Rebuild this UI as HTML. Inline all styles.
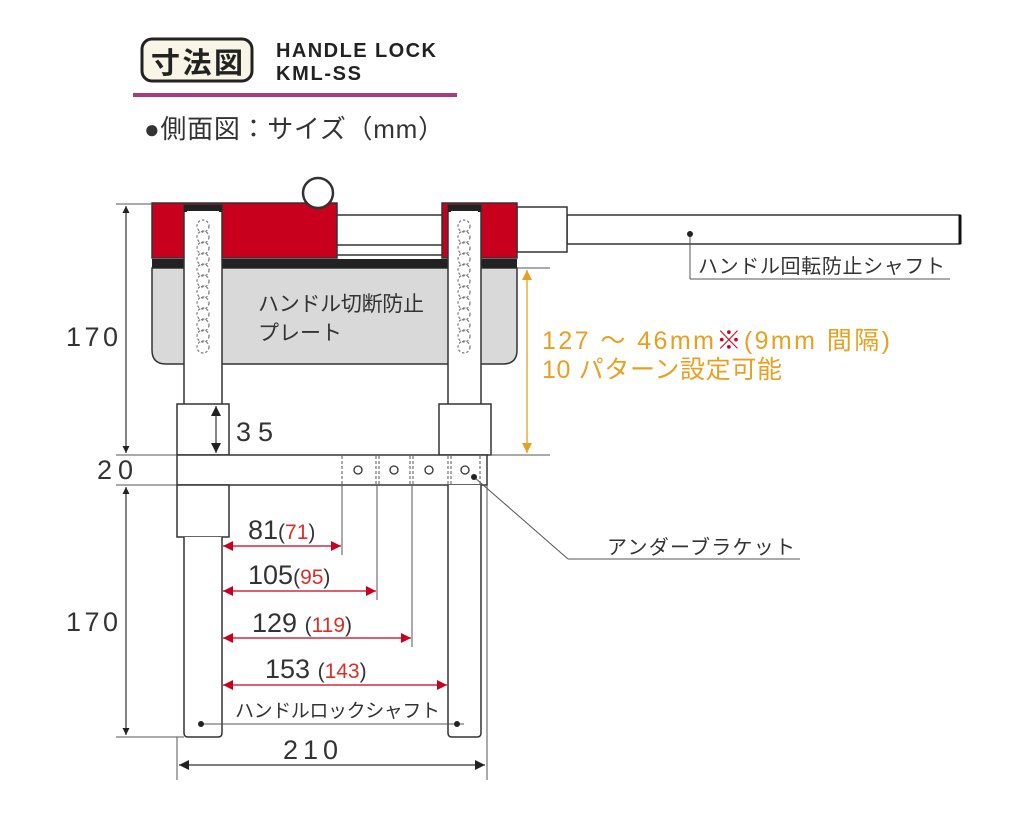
<!DOCTYPE html>
<html><head><meta charset="utf-8"><style>
html,body{margin:0;padding:0;background:#fff;width:1024px;height:819px;overflow:hidden}
svg{display:block}
text{font-family:"Liberation Sans","Noto Sans CJK JP",sans-serif}
</style></head><body>
<svg width="1024" height="819" viewBox="0 0 1024 819" xmlns="http://www.w3.org/2000/svg">
<defs>
<marker id="ak" viewBox="0 0 10 10" refX="10" refY="5" markerWidth="7" markerHeight="12" orient="auto-start-reverse" markerUnits="userSpaceOnUse"><path d="M0,0 L10,5 L0,10z" fill="#222"/></marker>
<marker id="ar" viewBox="0 0 10 10" refX="10" refY="5" markerWidth="20" markerHeight="10" orient="auto-start-reverse" markerUnits="userSpaceOnUse"><path d="M0,0 L10,5 L0,10z" fill="#c8001e"/></marker>
<marker id="ao" viewBox="0 0 10 10" refX="10" refY="5" markerWidth="16" markerHeight="10" orient="auto-start-reverse" markerUnits="userSpaceOnUse"><path d="M0,0 L10,5 L0,10z" fill="#e8a020"/></marker>
<marker id="av" viewBox="0 0 10 10" refX="10" refY="5" markerWidth="18" markerHeight="10" orient="auto-start-reverse" markerUnits="userSpaceOnUse"><path d="M0,0 L10,5 L0,10z" fill="#222"/></marker>
</defs>
<!-- header -->
<rect x="142" y="39" width="110" height="42" rx="10" fill="#f8f4e6" stroke="#222" stroke-width="3"/>
<text x="197" y="73" font-size="29" font-weight="bold" text-anchor="middle" fill="#222" textLength="92">寸法図</text>
<text x="276" y="57" font-size="20" font-weight="bold" fill="#222" textLength="160">HANDLE LOCK</text>
<text x="276" y="80" font-size="20" font-weight="bold" fill="#222" textLength="85">KML-SS</text>
<rect x="133" y="93" width="324" height="4" fill="#a83a80"/>
<text x="144" y="138" font-size="26" fill="#333" textLength="300">●側面図：サイズ（mm）</text>

<g stroke="#333" stroke-width="1.5" fill="none">
<rect x="567" y="215" width="393" height="29" fill="#fff"/>
<line x1="960" y1="215" x2="960" y2="244" stroke="#111" stroke-width="3"/>
<rect x="517" y="207" width="50" height="45" fill="#fff"/>
<path d="M152,268 H517 V350 Q517,364 503,364 H166 Q152,364 152,350 Z" fill="#d9d9d9"/>
<rect x="152" y="259" width="365" height="9" fill="#222" stroke="none"/>
<rect x="152" y="203" width="185" height="55" fill="#c8001e"/>
<rect x="442" y="203" width="75" height="55" fill="#c8001e"/>
<rect x="337" y="215" width="105" height="30" fill="#fff"/>
<line x1="337" y1="255" x2="442" y2="255"/>
<circle cx="318" cy="193" r="15" fill="#fff" stroke-width="2.5"/>
<rect x="184" y="205" width="38" height="200" fill="#fff"/>
<rect x="448" y="205" width="33" height="200" fill="#fff"/>
<rect x="184" y="205" width="38" height="7" fill="#222" stroke="none"/>
<rect x="448" y="205" width="33" height="7" fill="#222" stroke="none"/>
<rect x="187" y="211" width="32" height="5" fill="#fff" stroke="none"/>
<rect x="451" y="211" width="27" height="5" fill="#fff" stroke="none"/>
</g>
<g stroke="#777" stroke-width="1.2" fill="none" stroke-dasharray="2.5,2">
<circle cx="203" cy="226" r="6"/><circle cx="203" cy="237" r="6"/><circle cx="203" cy="248" r="6"/><circle cx="203" cy="259" r="6"/><circle cx="203" cy="270" r="6"/><circle cx="203" cy="281" r="6"/><circle cx="203" cy="292" r="6"/><circle cx="203" cy="303" r="6"/><circle cx="203" cy="314" r="6"/><circle cx="203" cy="325" r="6"/><circle cx="203" cy="336" r="6"/><circle cx="203" cy="347" r="6"/>
<circle cx="464" cy="226" r="6"/><circle cx="464" cy="237" r="6"/><circle cx="464" cy="248" r="6"/><circle cx="464" cy="259" r="6"/><circle cx="464" cy="270" r="6"/><circle cx="464" cy="281" r="6"/><circle cx="464" cy="292" r="6"/><circle cx="464" cy="303" r="6"/><circle cx="464" cy="314" r="6"/><circle cx="464" cy="325" r="6"/><circle cx="464" cy="336" r="6"/><circle cx="464" cy="347" r="6"/>
</g>
<text x="258" y="311" font-size="21" fill="#333" textLength="166">ハンドル切断防止</text>
<text x="258" y="340" font-size="21" fill="#333" textLength="84">プレート</text>

<g stroke="#333" stroke-width="1.5" fill="#fff">
<rect x="177" y="404" width="52" height="51"/>
<rect x="439" y="404" width="52" height="51"/>
<rect x="177" y="455" width="310" height="30"/>
<rect x="177" y="485" width="52" height="52"/>
<path d="M184,537 V733 Q184,737 188,737 H218 Q222,737 222,733 V537"/>
<path d="M448,485 V733 Q448,737 452,737 H477 Q481,737 481,733 V485"/>
</g>
<g stroke="#555" stroke-width="1" stroke-dasharray="3,2">
<line x1="342" y1="456" x2="342" y2="484"/><line x1="376" y1="456" x2="376" y2="484"/><line x1="379" y1="456" x2="379" y2="484"/>
<line x1="410" y1="456" x2="410" y2="484"/><line x1="413" y1="456" x2="413" y2="484"/>
<line x1="448" y1="456" x2="448" y2="484"/><line x1="451" y1="456" x2="451" y2="484"/><line x1="480" y1="456" x2="480" y2="484"/>
</g>
<g stroke="#333" stroke-width="1.3" fill="#fff">
<circle cx="358" cy="470" r="4"/><circle cx="394" cy="470" r="4"/><circle cx="429" cy="470" r="4"/><circle cx="465" cy="470" r="4"/>
</g>
<g stroke="#555" stroke-width="1">
<line x1="116" y1="204" x2="152" y2="204"/>
<line x1="116" y1="455" x2="177" y2="455"/>
<line x1="116" y1="485" x2="177" y2="485"/>
<line x1="116" y1="737" x2="184" y2="737"/>
<line x1="490" y1="455" x2="550" y2="455"/>
<line x1="517" y1="268" x2="550" y2="268"/>
<line x1="177" y1="737" x2="177" y2="780"/>
<line x1="487" y1="485" x2="487" y2="780"/>
<line x1="342" y1="485" x2="342" y2="555"/>
<line x1="377" y1="485" x2="377" y2="600"/>
<line x1="412" y1="485" x2="412" y2="647"/>
<line x1="202" y1="724" x2="464" y2="724"/>
<line x1="690" y1="234" x2="690" y2="279"/><line x1="690" y1="279" x2="950" y2="279"/>
<line x1="474" y1="477" x2="568" y2="559"/><line x1="568" y1="559" x2="800" y2="559"/>
</g>
<circle cx="690" cy="234" r="3" fill="#222"/>
<circle cx="474" cy="477" r="3" fill="#222"/>
<circle cx="201" cy="724" r="3" fill="#222"/>
<circle cx="457" cy="724" r="3" fill="#222"/>
<g stroke="#333" stroke-width="1.2">
<line x1="126" y1="206" x2="126" y2="453" marker-start="url(#ak)" marker-end="url(#ak)"/>
<line x1="126" y1="487" x2="126" y2="735" marker-start="url(#ak)" marker-end="url(#ak)"/>
<line x1="216" y1="406" x2="216" y2="453" marker-start="url(#av)" marker-end="url(#av)"/>
<line x1="179" y1="765" x2="485" y2="765" marker-start="url(#av)" marker-end="url(#av)"/>
</g>
<line x1="527" y1="270" x2="527" y2="453" stroke="#e8a020" stroke-width="1.3" marker-start="url(#ao)" marker-end="url(#ao)"/>
<g stroke="#c8001e" stroke-width="1.3">
<line x1="223" y1="546" x2="341" y2="546" marker-start="url(#ar)" marker-end="url(#ar)"/>
<line x1="223" y1="591" x2="376" y2="591" marker-start="url(#ar)" marker-end="url(#ar)"/>
<line x1="223" y1="638" x2="411" y2="638" marker-start="url(#ar)" marker-end="url(#ar)"/>
<line x1="223" y1="685" x2="447" y2="685" marker-start="url(#ar)" marker-end="url(#ar)"/>
</g>
<g font-size="27" fill="#333">
<text x="66" y="346" textLength="52">170</text>
<text x="66" y="631" textLength="52">170</text>
<text x="97" y="479" textLength="36">20</text>
<text x="236" y="441" textLength="37">35</text>
<text x="283" y="759" textLength="55">210</text>
<text x="248" y="539">81<tspan font-size="21">(</tspan><tspan font-size="21" fill="#d8302a">71</tspan><tspan font-size="21">)</tspan></text>
<text x="248" y="584">105<tspan font-size="21">(</tspan><tspan font-size="21" fill="#d8302a">95</tspan><tspan font-size="21">)</tspan></text>
<text x="252" y="632">129 <tspan font-size="21">(</tspan><tspan font-size="21" fill="#d8302a">119</tspan><tspan font-size="21">)</tspan></text>
<text x="265" y="678">153 <tspan font-size="21">(</tspan><tspan font-size="21" fill="#d8302a">143</tspan><tspan font-size="21">)</tspan></text>
</g>
<text x="235" y="717" font-size="19" fill="#333" textLength="205">ハンドルロックシャフト</text>
<text x="698" y="273" font-size="20" fill="#333" textLength="247">ハンドル回転防止シャフト</text>
<text x="607" y="554" font-size="20" fill="#333" textLength="188">アンダーブラケット</text>
<text x="542" y="349" font-size="25" fill="#e8a020" textLength="348">127 ～ 46mm<tspan fill="#c8001e">※</tspan>(9mm 間隔)</text>
<text x="542" y="378" font-size="25" fill="#e8a020" textLength="240">10 パターン設定可能</text>
</svg>
</body></html>
